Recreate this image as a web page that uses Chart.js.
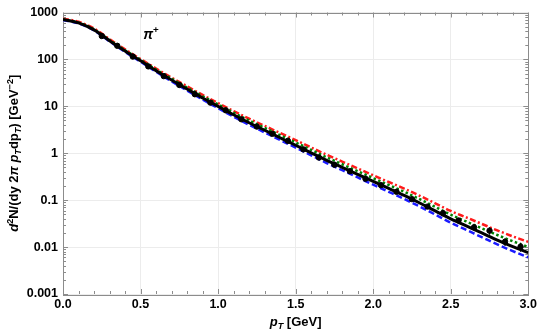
<!DOCTYPE html>
<html>
<head>
<meta charset="utf-8">
<script src="https://cdn.jsdelivr.net/npm/chart.js@4.4.1/dist/chart.umd.min.js"></script>
<style>
  html, body { margin: 0; padding: 0; background: #fff; }
  canvas { display: block; }
</style>
</head>
<body>
<canvas id="chart-spectrum" width="540" height="334"></canvas>
<script>
// model curves, sampled every 0.1 GeV
const pT = [0.0, 0.1, 0.2, 0.3, 0.4, 0.5, 0.6, 0.7, 0.8, 0.9, 1.0, 1.1, 1.2, 1.3, 1.4, 1.5,
            1.6, 1.7, 1.8, 1.9, 2.0, 2.1, 2.2, 2.3, 2.4, 2.5, 2.6, 2.7, 2.8, 2.9, 3.0];
const curveBlack = [708, 603, 427, 251, 151, 93.3, 57.5, 36.3, 23.4, 15.1, 10.0, 6.61, 4.47, 3.09, 2.14, 1.48,
                    1.02, 0.708, 0.501, 0.355, 0.251, 0.178, 0.126, 0.0871, 0.0589, 0.0398, 0.0282, 0.0200, 0.0141, 0.0102, 0.00759];
const curveRed = [741, 637, 455, 270, 164, 102, 64.0, 40.9, 26.8, 17.5, 11.7, 7.91, 5.45, 3.84, 2.70, 1.91,
                  1.33, 0.929, 0.664, 0.474, 0.339, 0.244, 0.176, 0.124, 0.0855, 0.0589, 0.0429, 0.0312, 0.0227, 0.0169, 0.0129];
const curveGreen = [708, 608, 435, 258, 157, 97.7, 60.8, 38.7, 25.2, 16.4, 11.0, 7.31, 4.99, 3.48, 2.43, 1.70,
                    1.18, 0.820, 0.583, 0.415, 0.295, 0.211, 0.151, 0.105, 0.0718, 0.0490, 0.0352, 0.0252, 0.0181, 0.0133, 0.0100];
const curveBlue = [692, 586, 413, 242, 145, 89.1, 54.5, 34.0, 21.8, 13.9, 9.12, 6.00, 4.04, 2.78, 1.91, 1.32,
                   0.904, 0.619, 0.435, 0.305, 0.214, 0.151, 0.106, 0.0731, 0.0492, 0.0331, 0.0232, 0.0163, 0.0114, 0.0082, 0.00603];

// measured points
const dataPT = [0.25, 0.35, 0.45, 0.55, 0.65, 0.75, 0.85, 0.95, 1.05, 1.15, 1.25, 1.35, 1.45, 1.55,
                1.65, 1.75, 1.85, 1.95, 2.05, 2.15, 2.25, 2.35, 2.45, 2.55, 2.65, 2.75, 2.85, 2.95];
const dataY = [315, 195, 115, 71, 44, 28.5, 18.1, 12.0, 8.2, 5.3, 3.7, 2.6, 1.84, 1.21,
               0.81, 0.57, 0.415, 0.287, 0.209, 0.151, 0.105, 0.073, 0.053, 0.037, 0.0264, 0.0224, 0.013, 0.0102];
const dataErr = [15, 9, 5, 3, 2, 1.3, 0.8, 0.55, 0.38, 0.25, 0.18, 0.13, 0.09, 0.06,
                 0.045, 0.032, 0.025, 0.018, 0.014, 0.011, 0.008, 0.006, 0.005, 0.004, 0.0035, 0.004, 0.0025, 0.0022];

const xTicks = [0, 0.5, 1.0, 1.5, 2.0, 2.5, 3.0];
const yTicks = [0.001, 0.01, 0.1, 1, 10, 100, 1000];

const FONT = '"Liberation Sans", Arial, sans-serif';

function toPoints(xs, ys) {
    return xs.map((x, i) => ({ x: x, y: ys[i] }));
}

// draws a run of text pieces: {t, i (italic), sup, sub}
function richWidth(ctx, parts, size) {
    let w = 0;
    parts.forEach(p => {
        const s = (p.sup || p.sub) ? size * 0.7 : size;
        ctx.font = (p.i ? 'italic ' : '') + 'bold ' + s + 'px ' + FONT;
        w += ctx.measureText(p.t).width;
    });
    return w;
}
function drawRich(ctx, parts, x, y, size) {
    let cx = x - richWidth(ctx, parts, size) / 2;
    parts.forEach(p => {
        const s = (p.sup || p.sub) ? size * 0.7 : size;
        ctx.font = (p.i ? 'italic ' : '') + 'bold ' + s + 'px ' + FONT;
        let dy = 0;
        if (p.sup) dy = -size * 0.4;
        if (p.sub) dy = size * 0.25;
        ctx.fillText(p.t, cx, y + dy);
        cx += ctx.measureText(p.t).width;
    });
}

const frameAndLabels = {
    id: 'frameAndLabels',
    beforeDatasetsDraw(chart) {
        const ctx = chart.ctx, a = chart.chartArea;
        const xs = chart.scales.x, ys = chart.scales.y;
        ctx.save();
        ctx.strokeStyle = '#8c8c8c';
        ctx.lineWidth = 1;
        // minor/major ticks, pointing inward on all four sides
        ctx.beginPath();
        for (let k = 0; k <= 30; k++) {
            const px = Math.round(xs.getPixelForValue(k / 10)) + 0.5;
            const len = (k % 5 === 0) ? 5 : 3;
            ctx.moveTo(px, a.bottom); ctx.lineTo(px, a.bottom - len);
            ctx.moveTo(px, a.top); ctx.lineTo(px, a.top + len);
        }
        for (let e = -3; e < 3; e++) {
            for (let m = 1; m <= 9; m++) {
                const py = Math.round(ys.getPixelForValue(m * Math.pow(10, e))) + 0.5;
                const len = (m === 1) ? 5 : 3;
                ctx.moveTo(a.left, py); ctx.lineTo(a.left + len, py);
                ctx.moveTo(a.right, py); ctx.lineTo(a.right - len, py);
            }
        }
        ctx.stroke();
        ctx.strokeRect(Math.round(a.left) + 0.5, Math.round(a.top) + 0.5,
                       Math.round(a.right - a.left), Math.round(a.bottom - a.top));
        ctx.restore();
    },
    afterDatasetsDraw(chart) {
        const ctx = chart.ctx, a = chart.chartArea;
        const xs = chart.scales.x, ys = chart.scales.y;
        ctx.save();
        // error bars on the measured points
        ctx.strokeStyle = '#000';
        ctx.lineWidth = 1.2;
        ctx.beginPath();
        dataPT.forEach((x, i) => {
            const px = xs.getPixelForValue(x);
            ctx.moveTo(px, ys.getPixelForValue(dataY[i] + dataErr[i]));
            ctx.lineTo(px, ys.getPixelForValue(dataY[i] - dataErr[i]));
        });
        ctx.stroke();

        ctx.fillStyle = '#000';
        ctx.textBaseline = 'alphabetic';
        // particle label
        drawRich(ctx, [{ t: 'π', i: true }, { t: '+', sup: true }], 151, 39, 14);
        // x title
        drawRich(ctx, [{ t: 'p', i: true }, { t: 'T', i: true, sub: true }, { t: ' [GeV]' }],
                 (a.left + a.right) / 2, 326, 13);
        // y title
        ctx.translate(18, (a.top + a.bottom) / 2);
        ctx.rotate(-Math.PI / 2);
        drawRich(ctx, [
            { t: 'd', i: true }, { t: '2', sup: true }, { t: 'N/(dy 2' }, { t: 'π', i: true }, { t: ' ' },
            { t: 'p', i: true }, { t: 'T', i: true, sub: true }, { t: 'dp' }, { t: 'T', i: true, sub: true },
            { t: ') [GeV' }, { t: '−2', sup: true }, { t: ']' }
        ], 0, 0, 13);
        ctx.restore();
    }
};

const chartSpectrum = new Chart(document.getElementById('chart-spectrum'), {
    type: 'line',
    data: {
        datasets: [
            {
                label: 'data',
                data: toPoints(dataPT, dataY),
                showLine: false,
                pointRadius: 2.7,
                pointBackgroundColor: '#000',
                pointBorderColor: '#000',
                order: 0
            },
            {
                label: 'black',
                data: toPoints(pT, curveBlack),
                borderColor: '#000000',
                borderWidth: 3,
                pointRadius: 0,
                cubicInterpolationMode: 'monotone',
                order: 1
            },
            {
                label: 'blue',
                data: toPoints(pT, curveBlue),
                borderColor: '#1a1aff',
                borderWidth: 2.5,
                borderDash: [6, 3],
                pointRadius: 0,
                cubicInterpolationMode: 'monotone',
                order: 2
            },
            {
                label: 'green',
                data: toPoints(pT, curveGreen),
                borderColor: '#008000',
                borderWidth: 2.5,
                borderDash: [2.5, 2.5],
                pointRadius: 0,
                cubicInterpolationMode: 'monotone',
                order: 3
            },
            {
                label: 'red',
                data: toPoints(pT, curveRed),
                borderColor: '#ff1a1a',
                borderWidth: 2.5,
                borderDash: [6, 2.5, 2, 2.5],
                pointRadius: 0,
                cubicInterpolationMode: 'monotone',
                order: 4
            }
        ]
    },
    options: {
        responsive: false,
        animation: false,
        devicePixelRatio: 1,
        layout: { padding: { left: 0, right: 11, top: 7, bottom: 0 } },
        plugins: { legend: { display: false }, tooltip: { enabled: false } },
        scales: {
            x: {
                type: 'linear',
                min: 0,
                max: 3,
                afterBuildTicks: s => { s.ticks = xTicks.map(v => ({ value: v })); },
                afterFit: s => { s.height = 40; },
                ticks: {
                    padding: 3,
                    maxRotation: 0,
                    autoSkip: false,
                    color: '#000',
                    font: { family: FONT, size: 12.5, weight: 'bold' },
                    callback: v => v.toFixed(1)
                },
                grid: { color: '#ececec', drawTicks: false },
                border: { display: false }
            },
            y: {
                type: 'logarithmic',
                min: 0.001,
                max: 1000,
                afterBuildTicks: s => { s.ticks = yTicks.map(v => ({ value: v })); },
                afterFit: s => { s.width = 63; },
                ticks: {
                    padding: 5,
                    autoSkip: false,
                    color: '#000',
                    font: { family: FONT, size: 12.5, weight: 'bold' },
                    callback: v => String(v)
                },
                grid: { color: '#ececec', drawTicks: false },
                border: { display: false }
            }
        }
    },
    plugins: [frameAndLabels]
});
</script>
</body>
</html>
